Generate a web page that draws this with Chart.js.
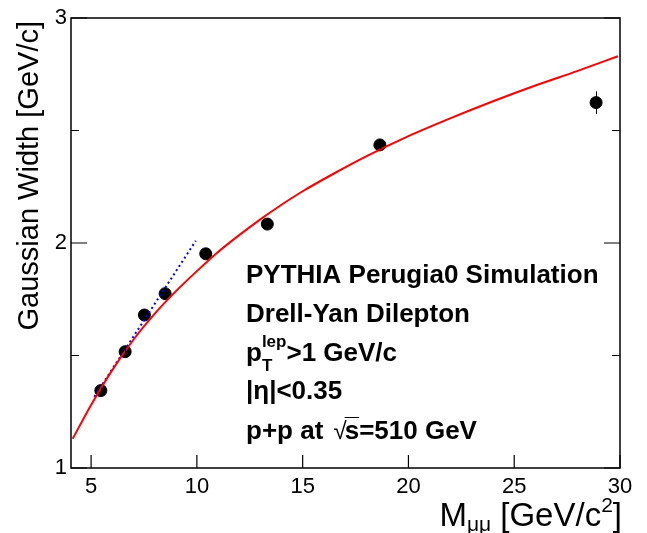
<!DOCTYPE html>
<html>
<head>
<meta charset="utf-8">
<script src="https://cdn.jsdelivr.net/npm/chart.js@4"></script>
<style>
  html, body { margin: 0; padding: 0; background: #fff; }
</style>
</head>
<body>
<canvas id="chart" width="647" height="533"></canvas>
<script>
// simulated points
const massPoints  = [5.46, 6.61, 7.52, 8.50, 10.42, 13.33, 18.65, 28.87];
const widthPoints = [1.344, 1.517, 1.680, 1.775, 1.952, 2.084, 2.436, 2.624];
const widthErrors = [0.01, 0.01, 0.01, 0.01, 0.015, 0.02, 0.02, 0.05];

// red fit curve
const fitMass  = [4.13, 5.0, 6.0, 7.0, 8.0, 9.0, 10.0, 11.0, 12.0, 13.0, 14.0, 15.0, 16.5, 18.0, 20.0, 22.0, 24.0, 26.0, 28.0, 29.9];
const fitWidth = [1.13, 1.28, 1.435, 1.57, 1.685, 1.785, 1.875, 1.96, 2.035, 2.105, 2.17, 2.23, 2.31, 2.385, 2.475, 2.555, 2.63, 2.70, 2.765, 2.83];

// blue dotted low-mass line
const lineMass  = [5.15, 9.95];
const lineWidth = [1.317, 2.01];

// axes
const xRange = [4.05, 30];
const yRange = [1, 3];
const xTicks = [5, 10, 15, 20, 25, 30];
const yTicks = [1, 2, 3];
const yMinorTicks = [1.5, 2.5];

const FONT = '"Liberation Sans", Arial, Helvetica, sans-serif';

function pts(xs, ys) {
  return xs.map((x, i) => ({ x: x, y: ys[i] }));
}

const errorBars = {
  id: 'errorBars',
  afterDatasetsDraw(chart) {
    const ctx = chart.ctx;
    const xs = chart.scales.x, ys = chart.scales.y;
    ctx.save();
    ctx.strokeStyle = '#000';
    ctx.lineWidth = 1;
    massPoints.forEach((m, i) => {
      const px = Math.round(xs.getPixelForValue(m)) + 0.5;
      ctx.beginPath();
      ctx.moveTo(px, ys.getPixelForValue(widthPoints[i] + widthErrors[i]));
      ctx.lineTo(px, ys.getPixelForValue(widthPoints[i] - widthErrors[i]));
      ctx.stroke();
    });
    ctx.restore();
  }
};

function drawRuns(ctx, parts, x, base) {
  parts.forEach(p => {
    ctx.font = p[1];
    ctx.fillText(p[0], x, base + p[2]);
    x += ctx.measureText(p[0]).width;
  });
  return x;
}

const rootFrame = {
  id: 'rootFrame',
  afterDraw(chart) {
    const ctx = chart.ctx;
    const a = chart.chartArea;
    const xs = chart.scales.x, ys = chart.scales.y;
    ctx.save();
    ctx.strokeStyle = '#000';
    ctx.lineWidth = 1.5;
    ctx.strokeRect(a.left, a.top, a.right - a.left, a.bottom - a.top);

    ctx.lineWidth = 1.2;
    ctx.beginPath();
    xTicks.forEach(t => {
      const px = xs.getPixelForValue(t);
      ctx.moveTo(px, a.bottom);
      ctx.lineTo(px, a.bottom - 13);
    });
    yTicks.forEach(t => {
      const py = ys.getPixelForValue(t);
      ctx.moveTo(a.left, py); ctx.lineTo(a.left + 16, py);
      ctx.moveTo(a.right, py); ctx.lineTo(a.right - 16, py);
    });
    yMinorTicks.forEach(t => {
      const py = ys.getPixelForValue(t);
      ctx.moveTo(a.left, py); ctx.lineTo(a.left + 8, py);
      ctx.moveTo(a.right, py); ctx.lineTo(a.right - 8, py);
    });
    ctx.stroke();

    // tick labels
    ctx.fillStyle = '#000';
    ctx.font = '22px ' + FONT;
    ctx.textAlign = 'center';
    ctx.textBaseline = 'middle';
    xTicks.forEach(t => ctx.fillText(String(t), xs.getPixelForValue(t), a.bottom + 19));
    ctx.textAlign = 'right';
    yTicks.forEach(t => ctx.fillText(String(t), a.left - 4, ys.getPixelForValue(t)));

    // y title
    ctx.save();
    ctx.translate(38, a.top + 3);
    ctx.rotate(-Math.PI / 2);
    ctx.font = '29px ' + FONT;
    ctx.textAlign = 'right';
    ctx.textBaseline = 'alphabetic';
    ctx.fillText('Gaussian Width [GeV/c]', 0, 0);
    ctx.restore();

    // x title: M_{μμ} [GeV/c^{2}]
    ctx.textAlign = 'left';
    ctx.textBaseline = 'alphabetic';
    const big = '33px ' + FONT, small = '21px ' + FONT;
    const xParts = [
      ['M', big, 0], ['\u03bc\u03bc', small, 5], [' [GeV/c', big, 0], ['2', small, -14], [']', big, 0]
    ];
    let total = 0;
    xParts.forEach(p => { ctx.font = p[1]; total += ctx.measureText(p[0]).width; });
    drawRuns(ctx, xParts, a.right + 2 - total, 526);

    // info text
    const bold = 'bold 26px ' + FONT, boldSmall = 'bold 17px ' + FONT;
    const tx = 246;
    ctx.font = bold;
    ctx.fillText('PYTHIA Perugia0 Simulation', tx, 283);
    ctx.fillText('Drell-Yan Dilepton', tx, 322);
    // p_T^lep
    const y3 = 361;
    ctx.fillText('p', tx, y3);
    const w = ctx.measureText('p').width;
    ctx.font = boldSmall;
    ctx.fillText('lep', tx + w, y3 - 14);
    ctx.fillText('T', tx + w, y3 + 10);
    const w2 = ctx.measureText('lep').width;
    ctx.font = bold;
    ctx.fillText('>1 GeV/c', tx + w + w2, y3);
    ctx.fillText('|\u03b7|<0.35', tx, 399);
    // p+p at sqrt(s)
    const y5 = 439;
    ctx.fillText('p+p at ', tx, y5);
    let sx = tx + ctx.measureText('p+p at ').width + 3;
    ctx.font = '24px ' + FONT;
    ctx.fillText('\u221a', sx, y5);
    sx += ctx.measureText('\u221a').width - 2;
    ctx.font = bold;
    const ws = ctx.measureText('s').width;
    ctx.fillText('s=510 GeV', sx, y5);
    ctx.lineWidth = 1;
    ctx.beginPath();
    ctx.moveTo(sx, y5 - 21.5);
    ctx.lineTo(sx + ws, y5 - 21.5);
    ctx.stroke();
    ctx.restore();
  }
};

new Chart(document.getElementById('chart'), {
  type: 'scatter',
  data: {
    datasets: [
      {
        type: 'line',
        data: pts(fitMass, fitWidth),
        borderColor: '#ff0000',
        borderWidth: 2,
        pointRadius: 0,
        cubicInterpolationMode: 'monotone',
        fill: false
      },
      {
        type: 'line',
        data: pts(lineMass, lineWidth),
        borderColor: '#0000ff',
        borderWidth: 2,
        borderDash: [2, 3],
        pointRadius: 0,
        fill: false
      },
      {
        data: pts(massPoints, widthPoints),
        backgroundColor: '#000',
        borderColor: '#000',
        pointRadius: 6,
        pointHoverRadius: 6
      }
    ]
  },
  options: {
    responsive: false,
    animation: false,
    devicePixelRatio: 1,
    layout: { padding: { left: 71, right: 27, top: 18, bottom: 65 } },
    plugins: { legend: { display: false }, tooltip: { enabled: false } },
    scales: {
      x: { type: 'linear', min: xRange[0], max: xRange[1], display: false },
      y: { type: 'linear', min: yRange[0], max: yRange[1], display: false }
    }
  },
  plugins: [errorBars, rootFrame]
});
</script>
</body>
</html>
